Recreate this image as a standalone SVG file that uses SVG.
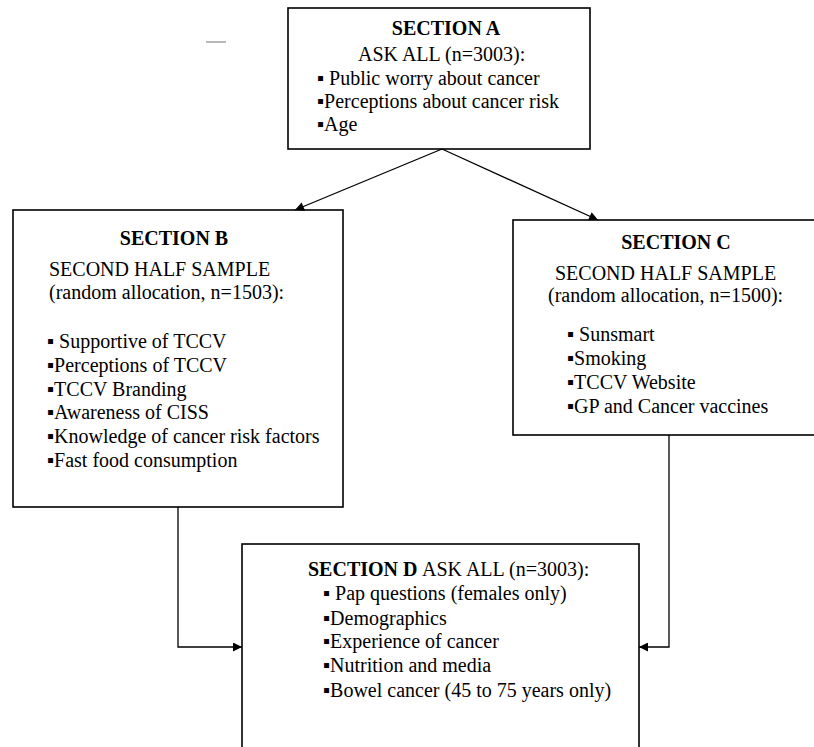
<svg xmlns="http://www.w3.org/2000/svg" width="814" height="747" viewBox="0 0 814 747">
<style>
  .box { fill: #ffffff; stroke: #000000; stroke-width: 1.6; }
  .t { font-family: "Liberation Serif", "Times New Roman", serif; font-size: 20px; fill: #000000; }
  .b { font-weight: bold; }
  .c { text-anchor: middle; }
  .conn { fill: none; stroke: #000000; stroke-width: 1.3; }
</style>
<defs>
  <marker id="arr" viewBox="0 0 10 10" refX="10" refY="5" markerWidth="10" markerHeight="9" markerUnits="userSpaceOnUse" orient="auto">
    <path d="M0,0 L10,5 L0,10 z" fill="#000000"/>
  </marker>
</defs>
<rect width="814" height="747" fill="#ffffff"/>
<line x1="206" y1="42" x2="226" y2="42" stroke="#a0a0a0" stroke-width="1.5"/>

<g id="sectionA">
  <rect class="box" x="288" y="8" width="302" height="141"/>
  <text class="t b c" x="446" y="35">SECTION A</text>
  <text class="t" x="358" y="61">ASK ALL (n=3003):</text>
  <text class="t" x="317" y="85">▪ Public worry about cancer</text>
  <text class="t" x="317" y="108">▪Perceptions about cancer risk</text>
  <text class="t" x="317" y="131">▪Age</text>
</g>

<g id="sectionB">
  <rect class="box" x="13" y="210" width="330" height="297"/>
  <text class="t b c" x="174" y="245">SECTION B</text>
  <text class="t" x="49" y="276">SECOND HALF SAMPLE</text>
  <text class="t" x="49" y="299">(random allocation, n=1503):</text>
  <text class="t" x="47" y="348">▪ Supportive of TCCV</text>
  <text class="t" x="47" y="372">▪Perceptions of TCCV</text>
  <text class="t" x="47" y="396">▪TCCV Branding</text>
  <text class="t" x="47" y="419">▪Awareness of CISS</text>
  <text class="t" x="47" y="443">▪Knowledge of cancer risk factors</text>
  <text class="t" x="47" y="467">▪Fast food consumption</text>
</g>

<g id="sectionC">
  <rect class="box" x="513" y="220" width="310" height="215"/>
  <text class="t b c" x="676" y="249">SECTION C</text>
  <text class="t" x="555" y="280">SECOND HALF SAMPLE</text>
  <text class="t" x="548" y="302">(random allocation, n=1500):</text>
  <text class="t" x="567" y="341">▪ Sunsmart</text>
  <text class="t" x="567" y="365">▪Smoking</text>
  <text class="t" x="567" y="389">▪TCCV Website</text>
  <text class="t" x="567" y="413">▪GP and Cancer vaccines</text>
</g>

<g id="sectionD">
  <rect class="box" x="242" y="544" width="397" height="220"/>
  <text class="t b" x="308" y="576">SECTION D</text>
  <text class="t" x="422" y="576">ASK ALL (n=3003):</text>
  <text class="t" x="323" y="600">▪ Pap questions (females only)</text>
  <text class="t" x="323" y="625">▪Demographics</text>
  <text class="t" x="323" y="648">▪Experience of cancer</text>
  <text class="t" x="323" y="672">▪Nutrition and media</text>
  <text class="t" x="323" y="697">▪Bowel cancer (45 to 75 years only)</text>
</g>

<g id="connectors">
  <line class="conn" x1="442" y1="149" x2="295" y2="210" marker-end="url(#arr)"/>
  <line class="conn" x1="442" y1="149" x2="598" y2="220" marker-end="url(#arr)"/>
  <polyline class="conn" points="178,507 178,647 242,647" marker-end="url(#arr)"/>
  <polyline class="conn" points="669,435 669,647 639,647" marker-end="url(#arr)"/>
</g>
</svg>
